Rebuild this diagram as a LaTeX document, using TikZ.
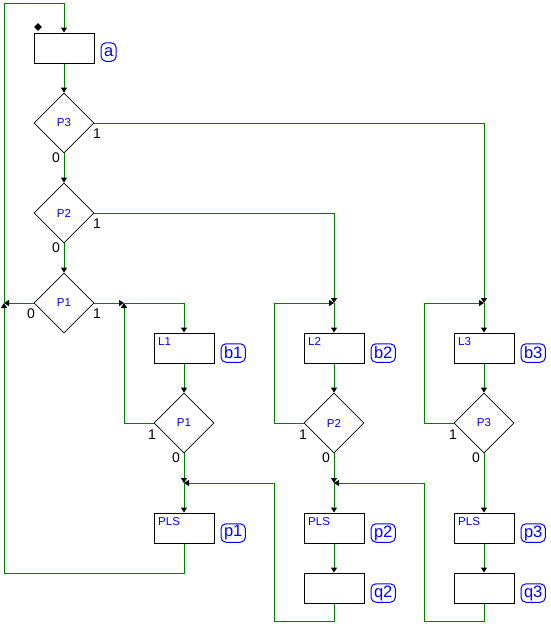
\documentclass[tikz,border=0pt]{standalone}
\usepackage{fontspec}
\setmainfont{Liberation Sans}
\usetikzlibrary{arrows.meta,shapes.geometric,calc}
\definecolor{fg}{RGB}{0,128,0}
\definecolor{lb}{RGB}{0,0,255}
\tikzset{
  stepbox/.style={draw=black, line width=1pt, minimum width=60pt, minimum height=30pt, inner sep=0pt},
  cond/.style={diamond, draw=black, line width=0.8pt, aspect=1, minimum size=60pt, inner sep=0pt, text=lb, font=\fontsize{11.5}{13}\selectfont},
  lab/.style={draw=lb, rounded corners=5pt, line width=1pt, text=lb, font=\fontsize{16.5}{18}\selectfont, inner xsep=3pt, inner ysep=0pt, minimum height=18.5pt, anchor=west},
  boxtxt/.style={text=lb, font=\fontsize{11.5}{13}\selectfont, inner sep=0pt, anchor=north west},
  num/.style={text=black, font=\fontsize{14}{15}\selectfont, inner sep=0pt},
  flow/.style={draw=fg, line width=1pt},
  arr/.style={-{Triangle[length=5pt,width=6pt,color=black,fill=black]}},
}
\begin{document}
\begin{tikzpicture}[x=1pt,y=-1pt]
\useasboundingbox (0,0) rectangle (551,629);
% nodes
\node[stepbox] (a) at (64,48) {};
\node[diamond, fill=black, minimum size=8pt, inner sep=0pt] (mk) at (38,27) {};
\node[cond] (P3) at (64,123) {P3};
\node[cond] (P2) at (64,213) {P2};
\node[cond] (P1) at (64,303) {P1};
\node[stepbox] (L1) at (184,348) {};
\node[cond] (Q1) at (184,423) {P1};
\node[stepbox] (p1) at (184,528) {};
\node[stepbox] (L2) at (334,348) {};
\node[cond] (Q2) at (334,423) {P2};
\node[stepbox] (p2) at (334,528) {};
\node[stepbox] (q2) at (334,588) {};
\node[stepbox] (L3) at (484,348) {};
\node[cond] (Q3) at (484,423) {P3};
\node[stepbox] (p3) at (484,528) {};
\node[stepbox] (q3) at (484,588) {};
% texts inside boxes
\node[boxtxt] (tL1) at ($(L1.north west)+(4.5,5)$) {L1};
\node[boxtxt] (tL2) at ($(L2.north west)+(4.5,5)$) {L2};
\node[boxtxt] (tL3) at ($(L3.north west)+(4.5,5)$) {L3};
\node[boxtxt] (tp1) at ($(p1.north west)+(4.5,5)$) {PLS};
\node[boxtxt] (tp2) at ($(p2.north west)+(4.5,5)$) {PLS};
\node[boxtxt] (tp3) at ($(p3.north west)+(4.5,5)$) {PLS};
% labels
\node[lab] (la) at ($(a.east)+(6,4)$) {a};
\node[lab] (lb1) at ($(L1.east)+(6,5)$) {b1};
\node[lab] (lb2) at ($(L2.east)+(6,5)$) {b2};
\node[lab] (lb3) at ($(L3.east)+(6,5)$) {b3};
\node[lab] (lp1) at ($(p1.east)+(6,5)$) {p1};
\node[lab] (lp2) at ($(p2.east)+(6,5)$) {p2};
\node[lab] (lp3) at ($(p3.east)+(6,5)$) {p3};
\node[lab] (lq2) at ($(q2.east)+(6,5)$) {q2};
\node[lab] (lq3) at ($(q3.east)+(6,5)$) {q3};
% branch numbers
\node[num] (n31) at (97,134) {1};
\node[num] (n30) at (56,158) {0};
\node[num] (n21) at (97,224) {1};
\node[num] (n20) at (56,248) {0};
\node[num] (n11) at (97,314) {1};
\node[num] (n10) at (31,314) {0};
\node[num] (m11) at (152,435) {1};
\node[num] (m10) at (176,458) {0};
\node[num] (m21) at (303,435) {1};
\node[num] (m20) at (326,458) {0};
\node[num] (m31) at (453,435) {1};
\node[num] (m30) at (476,458) {0};
% junction coordinates
\coordinate (t1) at (64,3);
\coordinate (m0) at (4,303);
\coordinate (e1) at (4,573);
\coordinate (j1) at (124,303);
\coordinate (j2) at (334,303);
\coordinate (c2) at (274,303);
\coordinate (j3) at (484,303);
\coordinate (c3) at (424,303);
\coordinate (k1) at (184,483);
\coordinate (k2) at (334,483);
\coordinate (d1) at (274,621);
\coordinate (d2) at (424,621);
% main chain
\draw[flow,arr] (a.south) -- (P3.north);
\draw[flow,arr] (P3.south) -- (P2.north);
\draw[flow,arr] (P2.south) -- (P1.north);
% left loop
\draw[flow,arr] (P1.west) -- (m0);
\draw[flow,arr] (p1.south) |- (e1) -- (m0);
\draw[flow,arr] (m0) |- (t1) -- (a.north);
% column 1
\draw[flow,arr] (P1.east) -- (j1);
\draw[flow,arr] (Q1.west) -| (j1);
\draw[flow,arr] (j1) -| (L1.north);
\draw[flow,arr] (L1.south) -- (Q1.north);
\draw[flow,arr] (Q1.south) -- (k1);
\draw[flow,arr] (k1) -- (p1.north);
\draw[flow,arr] (q2.south) |- (d1) |- (k1);
% column 2
\draw[flow,arr] (P2.east) -| (j2);
\draw[flow,arr] (Q2.west) -| (c2) -- (j2);
\draw[flow,arr] (j2) -- (L2.north);
\draw[flow,arr] (L2.south) -- (Q2.north);
\draw[flow,arr] (Q2.south) -- (k2);
\draw[flow,arr] (k2) -- (p2.north);
\draw[flow,arr] (p2.south) -- (q2.north);
\draw[flow,arr] (q3.south) |- (d2) |- (k2);
% column 3
\draw[flow,arr] (P3.east) -| (j3);
\draw[flow,arr] (Q3.west) -| (c3) -- (j3);
\draw[flow,arr] (j3) -- (L3.north);
\draw[flow,arr] (L3.south) -- (Q3.north);
\draw[flow,arr] (Q3.south) -- (p3.north);
\draw[flow,arr] (p3.south) -- (q3.north);
\end{tikzpicture}
\end{document}
